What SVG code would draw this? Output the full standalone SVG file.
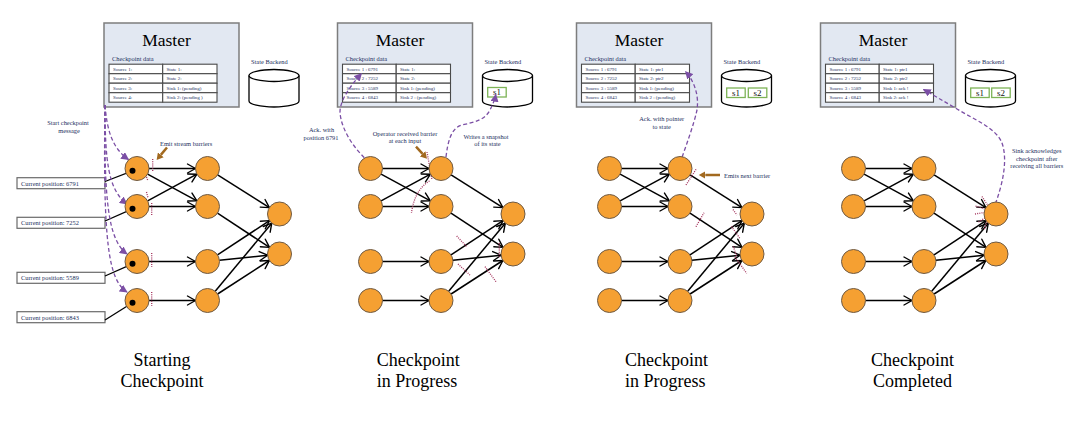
<svg xmlns="http://www.w3.org/2000/svg" width="1084" height="433" viewBox="0 0 1084 433">
  <style>
    text { font-family: "Liberation Serif", "Times New Roman", serif; }
    .bg { fill: #ffffff; }
    .master { fill: #e2e8f2; stroke: #7d7d7d; stroke-width: 1.5; }
    .title { font-size: 17.5px; fill: #000; text-anchor: middle; }
    .lbl { font-size: 6.4px; fill: #23305e; }
    .mid { text-anchor: middle; }
    .cell { fill: #ffffff; stroke: #4a4a4a; stroke-width: 1.1; }
    .ctext { font-size: 5px; fill: #23305e; }
    .cyl { fill: #ffffff; stroke: #000; stroke-width: 1.3; }
    .snap { fill: #ffffff; stroke: #7db356; stroke-width: 1.3; }
    .stext { font-size: 9px; fill: #111; text-anchor: middle; }
    .node circle { fill: #f5a032; stroke: #6e5a44; stroke-width: 1; }
    .node circle.dot { fill: #000; stroke: none; }
    .pos rect { fill: #ffffff; stroke: #6a6a6a; stroke-width: 1.2; }
    .pos text { font-size: 6.4px; fill: #23305e; }
    .feed { stroke: #000; stroke-width: 1.3; }
    .edge { stroke: #000; stroke-width: 1.5; fill: none; marker-end: url(#arr); }
    .ack { stroke: #7b4fa5; stroke-width: 1.3; stroke-dasharray: 4 2.5; fill: none; marker-end: url(#parr); }
    .bar { stroke: #a3335c; stroke-width: 1.3; stroke-dasharray: 1 1.2; fill: none; }
    .hint { stroke: #a2691f; stroke-width: 2.5; fill: none; marker-end: url(#barr); }
    .caption { font-size: 18px; fill: #000; }
  </style>
  <defs>
    <marker id="arr" viewBox="-10 -6 12 12" refX="0" refY="0" markerWidth="12" markerHeight="12" markerUnits="userSpaceOnUse" orient="auto">
      <path d="M-8,-4.5 L0,0 L-8,4.5" fill="none" stroke="#000" stroke-width="1.4" stroke-linejoin="round" stroke-linecap="round"/>
    </marker>
    <marker id="parr" viewBox="0 0 10 10" refX="9" refY="5" markerWidth="8" markerHeight="8" markerUnits="userSpaceOnUse" orient="auto">
      <path d="M0,0 L10,5 L0,10 z" fill="#7b4fa5"/>
    </marker>
    <marker id="barr" viewBox="0 -4 7 8" refX="0" refY="0" markerWidth="7" markerHeight="8" markerUnits="userSpaceOnUse" orient="auto">
      <path d="M0,-3.8 L6.5,0 L0,3.8 z" fill="#a2691f"/>
    </marker>
  </defs>

  <rect class="bg" x="0" y="0" width="1084" height="433"/>

  <!-- ============ Stage 1: starting the checkpoint ============ -->
  <g id="stage-start">
    <g id="s1-master">
      <rect class="master" x="104" y="23" width="135" height="84"/>
      <text class="title" x="166.5" y="46">Master</text>
      <text class="lbl" x="112" y="61">Checkpoint data</text>
      <g xml:space="preserve">
        <rect class="cell" x="109" y="64.2" width="53.7" height="9.5"/><rect class="cell" x="162.7" y="64.2" width="54.3" height="9.5"/>
        <rect class="cell" x="109" y="73.7" width="53.7" height="9.5"/><rect class="cell" x="162.7" y="73.7" width="54.3" height="9.5"/>
        <rect class="cell" x="109" y="83.2" width="53.7" height="9.5"/><rect class="cell" x="162.7" y="83.2" width="54.3" height="9.5"/>
        <rect class="cell" x="109" y="92.7" width="53.7" height="9.5"/><rect class="cell" x="162.7" y="92.7" width="54.3" height="9.5"/>
        <text class="ctext" x="113" y="70.8">Source 1:</text><text class="ctext" x="166.5" y="70.8">State 1:</text>
        <text class="ctext" x="113" y="80.3">Source 2:</text><text class="ctext" x="166.5" y="80.3">State 2:</text>
        <text class="ctext" x="113" y="89.8">Source 3:</text><text class="ctext" x="166.5" y="89.8">Sink 1: (pending)</text>
        <text class="ctext" x="113" y="99.3">Source 4:</text><text class="ctext" x="166.5" y="99.3">Sink  2:  (pending   )</text>
      </g>
    </g>
    <g id="s1-backend">
      <text class="lbl" x="251" y="64">State Backend</text>
      <path class="cyl" d="M249,75.5 L249,101 A25,6 0 0 0 299,101 L299,75.5"/>
      <ellipse class="cyl" cx="274" cy="75.5" rx="25" ry="6"/>
    </g>

    <g id="s1-positions">
      <g class="pos" id="s1-pos1"><rect x="17" y="177.7" width="88" height="11"/><text x="21" y="185.6">Current position: 6791</text></g>
      <g class="pos" id="s1-pos2"><rect x="17" y="217.3" width="88" height="11"/><text x="21" y="225.2">Current position: 7252</text></g>
      <g class="pos" id="s1-pos3"><rect x="17" y="272.3" width="88" height="11"/><text x="21" y="280.2">Current position: 5589</text></g>
      <g class="pos" id="s1-pos4"><rect x="17" y="311.7" width="88" height="11"/><text x="21" y="319.6">Current position: 6843</text></g>
    </g>

    <g id="s1-connectors">
      <line class="feed" x1="105" y1="181.5" x2="132.5" y2="170.8"/>
      <line class="feed" x1="105" y1="221" x2="132.5" y2="208.8"/>
      <line class="feed" x1="105" y1="276" x2="132.5" y2="263.8"/>
      <line class="feed" x1="105" y1="320" x2="132.5" y2="302.8"/>
      <path class="edge" d="M149,168.5 L195.5,168.5"/>
      <path class="edge" d="M149,206.5 L195.5,206.5"/>
      <path class="edge" d="M149,261.5 L195.5,261.5"/>
      <path class="edge" d="M149,300.5 L195.5,300.5"/>
      <path class="edge" d="M147.6,174.2 L196.9,200.8"/>
      <path class="edge" d="M147.6,200.8 L196.9,174.2"/>
      <path class="edge" d="M217.6,174.9 L269.4,207.6"/>
      <path class="edge" d="M217.5,213.1 L269.5,247.4"/>
      <path class="edge" d="M217.5,254.9 L269.5,220.6"/>
      <path class="edge" d="M219.4,260.3 L267.6,255.2"/>
      <path class="edge" d="M215.2,291.3 L271.8,223.2"/>
      <path class="edge" d="M217.6,294 L269.4,260.5"/>
      <!-- checkpoint trigger messages from the master to every source -->
      <path class="ack" d="M105,105 C107,130 112,148 128.5,159.5"/>
      <path class="ack" d="M105,105 C105,160 108,190 127,204"/>
      <path class="ack" d="M105,105 C104,200 108,240 127,254"/>
      <path class="ack" d="M105,105 C103,240 108,280 127,292"/>
      <!-- barriers leaving the sources -->
      <path class="bar" d="M152.7,159 L152.7,172"/>
      <path class="bar" d="M146.5,177 L148,181"/>
      <path class="bar" d="M146.5,192 L148,198"/>
      <path class="bar" d="M151.7,203 L151.7,216"/>
      <path class="bar" d="M151.7,253 L151.7,267"/>
      <path class="bar" d="M151.7,292 L151.7,306"/>
      <path class="hint" d="M167,147.5 L160.8,154.9"/>
    </g>

    <g id="s1-src1" class="node"><circle cx="137" cy="168.5" r="12"/><circle class="dot" cx="132.5" cy="170.8" r="3"/></g>
    <g id="s1-src2" class="node"><circle cx="137" cy="206.5" r="12"/><circle class="dot" cx="132.5" cy="208.8" r="3"/></g>
    <g id="s1-src3" class="node"><circle cx="137" cy="261.5" r="12"/><circle class="dot" cx="132.5" cy="263.8" r="3"/></g>
    <g id="s1-src4" class="node"><circle cx="137" cy="300.5" r="12"/><circle class="dot" cx="132.5" cy="302.8" r="3"/></g>
    <g id="s1-op1" class="node"><circle cx="207.5" cy="168.5" r="12"/></g>
    <g id="s1-op2" class="node"><circle cx="207.5" cy="206.5" r="12"/></g>
    <g id="s1-op3" class="node"><circle cx="207.5" cy="261.5" r="12"/></g>
    <g id="s1-op4" class="node"><circle cx="207.5" cy="300.5" r="12"/></g>
    <g id="s1-sink1" class="node"><circle cx="279.5" cy="214" r="12"/></g>
    <g id="s1-sink2" class="node"><circle cx="279.5" cy="254" r="12"/></g>

    <text class="lbl mid" x="68" y="125.3">Start checkpoint</text>
    <text class="lbl mid" x="69" y="132.5">message</text>
    <text class="lbl" x="160" y="145.7">Emit stream barriers</text>
    <text class="caption mid" x="162" y="366">Starting</text>
    <text class="caption mid" x="162" y="386.5">Checkpoint</text>
  </g>

  <!-- ============ Stage 2: barriers aligned, snapshot written ============ -->
  <g id="stage-progress-a" transform="translate(233.5,0)">
    <g id="s2-master">
      <rect class="master" x="104" y="23" width="135" height="84"/>
      <text class="title" x="166.5" y="46">Master</text>
      <text class="lbl" x="112" y="61">Checkpoint data</text>
      <g xml:space="preserve">
        <rect class="cell" x="109" y="64.2" width="53.7" height="9.5"/><rect class="cell" x="162.7" y="64.2" width="54.3" height="9.5"/>
        <rect class="cell" x="109" y="73.7" width="53.7" height="9.5"/><rect class="cell" x="162.7" y="73.7" width="54.3" height="9.5"/>
        <rect class="cell" x="109" y="83.2" width="53.7" height="9.5"/><rect class="cell" x="162.7" y="83.2" width="54.3" height="9.5"/>
        <rect class="cell" x="109" y="92.7" width="53.7" height="9.5"/><rect class="cell" x="162.7" y="92.7" width="54.3" height="9.5"/>
        <text class="ctext" x="113" y="70.8">Source 1  : 6791</text><text class="ctext" x="166.5" y="70.8">State 1:</text>
        <text class="ctext" x="113" y="80.3">Source 2  : 7252</text><text class="ctext" x="166.5" y="80.3">State 2:</text>
        <text class="ctext" x="113" y="89.8">Source 3  : 5589</text><text class="ctext" x="166.5" y="89.8">Sink 1: (pending)</text>
        <text class="ctext" x="113" y="99.3">Source 4  : 6843</text><text class="ctext" x="166.5" y="99.3">Sink 2  : (pending)</text>
      </g>
    </g>
    <g id="s2-backend">
      <text class="lbl" x="251" y="64">State Backend</text>
      <path class="cyl" d="M249,75.5 L249,101 A25,6 0 0 0 299,101 L299,75.5"/>
      <ellipse class="cyl" cx="274" cy="75.5" rx="25" ry="6"/>
      <rect class="snap" x="254.2" y="87.5" width="18.5" height="9.5"/>
      <text class="stext" x="263.5" y="95.3">s1</text>
    </g>

    <g id="s2-connectors">
      <path class="edge" d="M149,168.5 L195.5,168.5"/>
      <path class="edge" d="M149,206.5 L195.5,206.5"/>
      <path class="edge" d="M149,261.5 L195.5,261.5"/>
      <path class="edge" d="M149,300.5 L195.5,300.5"/>
      <path class="edge" d="M147.6,174.2 L196.9,200.8"/>
      <path class="edge" d="M147.6,200.8 L196.9,174.2"/>
      <path class="edge" d="M217.6,174.9 L269.4,207.6"/>
      <path class="edge" d="M217.5,213.1 L269.5,247.4"/>
      <path class="edge" d="M217.5,254.9 L269.5,220.6"/>
      <path class="edge" d="M219.4,260.3 L267.6,255.2"/>
      <path class="edge" d="M215.2,291.3 L271.8,223.2"/>
      <path class="edge" d="M217.6,294 L269.4,260.5"/>
      <!-- source 1 acknowledges its offset -->
      <path class="ack" d="M135.5,162 C121.5,150 107.5,130 106.5,112 C106.5,100 117.5,85 128,73.5"/>
      <!-- operator stores its state snapshot -->
      <path class="ack" d="M212.5,157 C214.5,140 218,128 228.5,125 C241.5,122 251.5,120 256.5,110 C259.5,104 261.5,99 262.3,94.5"/>
      <!-- barriers in flight -->
      <path class="bar" d="M193.5,152 L198.5,180"/>
      <path class="bar" d="M196,181 Q181,190 178,213"/>
      <path class="bar" d="M223.2,236 L233.2,246.7"/>
      <path class="bar" d="M224.5,264 L236.5,275"/>
      <path class="bar" d="M251.5,266.7 L263.2,282.7"/>
      <path class="bar" d="M265.8,243 L265.8,257"/>
      <path class="hint" d="M182.5,146.7 L189.1,153.9"/>
    </g>

    <g id="s2-src1" class="node"><circle cx="137" cy="168.5" r="12"/></g>
    <g id="s2-src2" class="node"><circle cx="137" cy="206.5" r="12"/></g>
    <g id="s2-src3" class="node"><circle cx="137" cy="261.5" r="12"/></g>
    <g id="s2-src4" class="node"><circle cx="137" cy="300.5" r="12"/></g>
    <g id="s2-op1" class="node"><circle cx="207.5" cy="168.5" r="12"/></g>
    <g id="s2-op2" class="node"><circle cx="207.5" cy="206.5" r="12"/></g>
    <g id="s2-op3" class="node"><circle cx="207.5" cy="261.5" r="12"/></g>
    <g id="s2-op4" class="node"><circle cx="207.5" cy="300.5" r="12"/></g>
    <g id="s2-sink1" class="node"><circle cx="279.5" cy="214" r="12"/></g>
    <g id="s2-sink2" class="node"><circle cx="279.5" cy="254" r="12"/></g>

    <text class="lbl mid" x="88" y="132">Ack. with</text>
    <text class="lbl mid" x="87.5" y="140">position 6791</text>
    <text class="lbl mid" x="171.5" y="135.5">Operator received barrier</text>
    <text class="lbl mid" x="171.5" y="142.5">at each input</text>
    <text class="lbl mid" x="252.5" y="139">Writes a snapshot</text>
    <text class="lbl mid" x="254" y="146">of its state</text>
    <text class="caption" x="143.2" y="366">Checkpoint</text>
    <text class="caption" x="143.2" y="386.5">in Progress</text>
  </g>

  <!-- ============ Stage 3: state pointer acknowledged ============ -->
  <g id="stage-progress-b" transform="translate(472.5,0)">
    <g id="s3-master">
      <rect class="master" x="104" y="23" width="135" height="84"/>
      <text class="title" x="166.5" y="46">Master</text>
      <text class="lbl" x="112" y="61">Checkpoint data</text>
      <g xml:space="preserve">
        <rect class="cell" x="109" y="64.2" width="53.7" height="9.5"/><rect class="cell" x="162.7" y="64.2" width="54.3" height="9.5"/>
        <rect class="cell" x="109" y="73.7" width="53.7" height="9.5"/><rect class="cell" x="162.7" y="73.7" width="54.3" height="9.5"/>
        <rect class="cell" x="109" y="83.2" width="53.7" height="9.5"/><rect class="cell" x="162.7" y="83.2" width="54.3" height="9.5"/>
        <rect class="cell" x="109" y="92.7" width="53.7" height="9.5"/><rect class="cell" x="162.7" y="92.7" width="54.3" height="9.5"/>
        <text class="ctext" x="113" y="70.8">Source 1  : 6791</text><text class="ctext" x="166.5" y="70.8">State 1: ptr1</text>
        <text class="ctext" x="113" y="80.3">Source 2  : 7252</text><text class="ctext" x="166.5" y="80.3">State 2: ptr2</text>
        <text class="ctext" x="113" y="89.8">Source 3  : 5589</text><text class="ctext" x="166.5" y="89.8">Sink 1: (pending)</text>
        <text class="ctext" x="113" y="99.3">Source 4  : 6843</text><text class="ctext" x="166.5" y="99.3">Sink 2  : (pending)</text>
      </g>
    </g>
    <g id="s3-backend">
      <text class="lbl" x="251" y="64">State Backend</text>
      <path class="cyl" d="M249,75.5 L249,101 A25,6 0 0 0 299,101 L299,75.5"/>
      <ellipse class="cyl" cx="274" cy="75.5" rx="25" ry="6"/>
      <rect class="snap" x="254.2" y="88" width="18.5" height="9.5"/>
      <text class="stext" x="263.5" y="95.8">s1</text>
      <rect class="snap" x="275.8" y="88" width="18.5" height="9.5"/>
      <text class="stext" x="285" y="95.8">s2</text>
    </g>

    <g id="s3-connectors">
      <path class="edge" d="M149,168.5 L195.5,168.5"/>
      <path class="edge" d="M149,206.5 L195.5,206.5"/>
      <path class="edge" d="M149,261.5 L195.5,261.5"/>
      <path class="edge" d="M149,300.5 L195.5,300.5"/>
      <path class="edge" d="M147.6,174.2 L196.9,200.8"/>
      <path class="edge" d="M147.6,200.8 L196.9,174.2"/>
      <path class="edge" d="M217.6,174.9 L269.4,207.6"/>
      <path class="edge" d="M217.5,213.1 L269.5,247.4"/>
      <path class="edge" d="M217.5,254.9 L269.5,220.6"/>
      <path class="edge" d="M219.4,260.3 L267.6,255.2"/>
      <path class="edge" d="M215.2,291.3 L271.8,223.2"/>
      <path class="edge" d="M217.6,294 L269.4,260.5"/>
      <!-- operator reports the pointer to its stored state -->
      <path class="ack" d="M207.5,163 C213.5,146 221.5,124 224.5,110 C226.5,96 222.5,82 213,71.5"/>
      <!-- barriers in flight -->
      <path class="bar" d="M213.5,185 L224.2,168.3"/>
      <path class="bar" d="M223.5,226.7 L231.5,212.7"/>
      <path class="bar" d="M260.5,209.5 L264.5,215"/>
      <path class="bar" d="M259,226.5 L267.5,238.5"/>
      <path class="bar" d="M260.8,246.5 L264.2,256.5"/>
      <path class="bar" d="M262.5,257 L274.2,273.3"/>
      <path class="hint" d="M247.5,175 L232.8,175"/>
    </g>

    <g id="s3-src1" class="node"><circle cx="137" cy="168.5" r="12"/></g>
    <g id="s3-src2" class="node"><circle cx="137" cy="206.5" r="12"/></g>
    <g id="s3-src3" class="node"><circle cx="137" cy="261.5" r="12"/></g>
    <g id="s3-src4" class="node"><circle cx="137" cy="300.5" r="12"/></g>
    <g id="s3-op1" class="node"><circle cx="207.5" cy="168.5" r="12"/></g>
    <g id="s3-op2" class="node"><circle cx="207.5" cy="206.5" r="12"/></g>
    <g id="s3-op3" class="node"><circle cx="207.5" cy="261.5" r="12"/></g>
    <g id="s3-op4" class="node"><circle cx="207.5" cy="300.5" r="12"/></g>
    <g id="s3-sink1" class="node"><circle cx="279.5" cy="214" r="12"/></g>
    <g id="s3-sink2" class="node"><circle cx="279.5" cy="254" r="12"/></g>

    <text class="lbl mid" x="189.2" y="121">Ack. with pointer</text>
    <text class="lbl mid" x="189.2" y="128.5">to state</text>
    <text class="lbl" x="251.5" y="177.5">Emits next barrier</text>
    <text class="caption" x="152.5" y="366">Checkpoint</text>
    <text class="caption" x="152.5" y="386.5">in Progress</text>
  </g>

  <!-- ============ Stage 4: sinks acknowledge, checkpoint done ============ -->
  <g id="stage-complete" transform="translate(716.5,0)">
    <g id="s4-master">
      <rect class="master" x="104" y="23" width="135" height="84"/>
      <text class="title" x="166.5" y="46">Master</text>
      <text class="lbl" x="112" y="61">Checkpoint data</text>
      <g xml:space="preserve">
        <rect class="cell" x="109" y="64.2" width="53.7" height="9.5"/><rect class="cell" x="162.7" y="64.2" width="54.3" height="9.5"/>
        <rect class="cell" x="109" y="73.7" width="53.7" height="9.5"/><rect class="cell" x="162.7" y="73.7" width="54.3" height="9.5"/>
        <rect class="cell" x="109" y="83.2" width="53.7" height="9.5"/><rect class="cell" x="162.7" y="83.2" width="54.3" height="9.5"/>
        <rect class="cell" x="109" y="92.7" width="53.7" height="9.5"/><rect class="cell" x="162.7" y="92.7" width="54.3" height="9.5"/>
        <text class="ctext" x="113" y="70.8">Source 1  : 6791</text><text class="ctext" x="166.5" y="70.8">State 1: ptr1</text>
        <text class="ctext" x="113" y="80.3">Source 2  : 7252</text><text class="ctext" x="166.5" y="80.3">State 2: ptr2</text>
        <text class="ctext" x="113" y="89.8">Source 3  : 5589</text><text class="ctext" x="166.5" y="89.8">Sink 1:    ack !</text>
        <text class="ctext" x="113" y="99.3">Source 4  : 6843</text><text class="ctext" x="166.5" y="99.3">Sink  2:   ack !</text>
      </g>
    </g>
    <g id="s4-backend">
      <text class="lbl" x="251" y="64">State Backend</text>
      <path class="cyl" d="M249,75.5 L249,101 A25,6 0 0 0 299,101 L299,75.5"/>
      <ellipse class="cyl" cx="274" cy="75.5" rx="25" ry="6"/>
      <rect class="snap" x="254.2" y="88" width="18.5" height="9.5"/>
      <text class="stext" x="263.5" y="95.8">s1</text>
      <rect class="snap" x="275.2" y="88" width="18.5" height="9.5"/>
      <text class="stext" x="284.5" y="95.8">s2</text>
    </g>

    <g id="s4-connectors">
      <path class="edge" d="M149,168.5 L195.5,168.5"/>
      <path class="edge" d="M149,206.5 L195.5,206.5"/>
      <path class="edge" d="M149,261.5 L195.5,261.5"/>
      <path class="edge" d="M149,300.5 L195.5,300.5"/>
      <path class="edge" d="M147.6,174.2 L196.9,200.8"/>
      <path class="edge" d="M147.6,200.8 L196.9,174.2"/>
      <path class="edge" d="M217.6,174.9 L269.4,207.6"/>
      <path class="edge" d="M217.5,213.1 L269.5,247.4"/>
      <path class="edge" d="M217.5,254.9 L269.5,220.6"/>
      <path class="edge" d="M219.4,260.3 L267.6,255.2"/>
      <path class="edge" d="M215.2,291.3 L271.8,223.2"/>
      <path class="edge" d="M217.6,294 L269.4,260.5"/>
      <!-- sink acknowledgement back to the master -->
      <path class="ack" d="M276.5,210 C286.5,185 291.5,160 285.5,143 C279.5,128 258.5,120 240.5,109 C228.5,102 218.5,96 207,89.5"/>
      <!-- barriers arriving at the sink -->
      <path class="bar" d="M265.5,196.5 L271,205"/>
      <path class="bar" d="M259,206 L268,209"/>
      <path class="bar" d="M258.5,214 L268,212.5"/>
      <path class="bar" d="M262,222 L270,217"/>
      <path class="bar" d="M268,229 L271,220"/>
    </g>

    <g id="s4-src1" class="node"><circle cx="137" cy="168.5" r="12"/></g>
    <g id="s4-src2" class="node"><circle cx="137" cy="206.5" r="12"/></g>
    <g id="s4-src3" class="node"><circle cx="137" cy="261.5" r="12"/></g>
    <g id="s4-src4" class="node"><circle cx="137" cy="300.5" r="12"/></g>
    <g id="s4-op1" class="node"><circle cx="207.5" cy="168.5" r="12"/></g>
    <g id="s4-op2" class="node"><circle cx="207.5" cy="206.5" r="12"/></g>
    <g id="s4-op3" class="node"><circle cx="207.5" cy="261.5" r="12"/></g>
    <g id="s4-op4" class="node"><circle cx="207.5" cy="300.5" r="12"/></g>
    <g id="s4-sink1" class="node"><circle cx="279.5" cy="214" r="12"/></g>
    <g id="s4-sink2" class="node"><circle cx="279.5" cy="254" r="12"/></g>

    <text class="lbl mid" x="320.2" y="153">Sink acknowledges</text>
    <text class="lbl mid" x="320.2" y="160.5">checkpoint after</text>
    <text class="lbl mid" x="320.2" y="168">receiving all barriers</text>
    <text class="caption mid" x="196" y="366">Checkpoint</text>
    <text class="caption mid" x="196" y="386.5">Completed</text>
  </g>
</svg>
